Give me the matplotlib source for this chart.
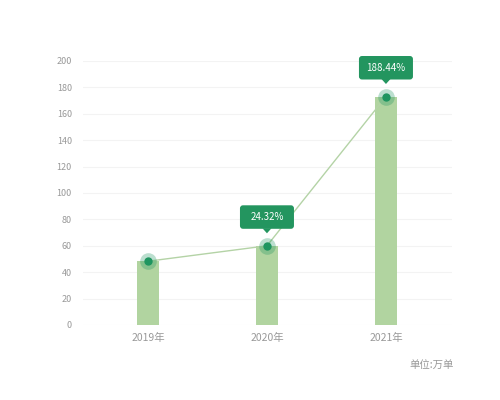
import matplotlib
matplotlib.use("Agg")
import matplotlib.pyplot as plt
import matplotlib.transforms as mtransforms
from matplotlib.patches import FancyBboxPatch, Polygon

plt.rcParams['font.family'] = ['Noto Sans CJK SC', 'DejaVu Sans']

categories = ["2019年", "2020年", "2021年"]
values = [48.3, 60.0, 173.1]
growth_labels = [None, "24.32%", "188.44%"]
yticks = [0, 20, 40, 60, 80, 100, 120, 140, 160, 180, 200]
unit_text = "单位:万单"

bar_color = "#b1d4a0"
line_color = "#b4d3a6"
dot_color = "#1f9560"
box_color = "#23955f"
tick_color = "#999999"

fig = plt.figure(figsize=(5, 4), dpi=100)
ax = fig.add_axes([0.166, 0.1875, 0.738, 0.66])

x = list(range(len(categories)))
ax.bar(x, values, width=0.185, color=bar_color, zorder=2)
ax.plot(x, values, color=line_color, lw=1.0, zorder=3)
ax.plot(x, values, 'o', ms=12, color=dot_color, alpha=0.3, mec='none', zorder=4)
ax.plot(x, values, 'o', ms=6, color=dot_color, mec='none', zorder=5)

for xi, v, lab in zip(x, values, growth_labels):
    if not lab:
        continue
    tr = fig.dpi_scale_trans + mtransforms.ScaledTranslation(xi, v, ax.transData)
    box = FancyBboxPatch((-0.27, 0.17), 0.54, 0.235,
                         boxstyle="round,pad=0,rounding_size=0.03",
                         fc=box_color, ec='none', transform=tr, clip_on=False, zorder=6)
    ax.add_patch(box)
    tri = Polygon([(-0.045, 0.175), (0.045, 0.175), (0, 0.125)], closed=True,
                  fc=box_color, ec='none', transform=tr, clip_on=False, zorder=6)
    ax.add_patch(tri)
    ax.text(0, 0.2875, lab, transform=tr, ha='center', va='center',
            color='white', fontsize=7, fontweight='light', zorder=7, clip_on=False)

ax.set_xlim(-0.546, 2.555)
ax.set_ylim(0, 200)
ax.set_yticks(yticks)
ax.set_xticks(x)
ax.set_xticklabels(categories)
ax.tick_params(axis='both', length=0, colors=tick_color)
ax.tick_params(axis='y', labelsize=6.5, pad=8)
ax.tick_params(axis='x', labelsize=7.5, pad=6)
for lbl in ax.get_xticklabels() + ax.get_yticklabels():
    lbl.set_fontweight('light')
for s in ax.spines.values():
    s.set_visible(False)
ax.yaxis.grid(True, color="#f3f3f3", lw=0.8, zorder=0)
ax.set_axisbelow(True)

fig.text(0.908, 0.0875, unit_text, ha='right', va='center', fontsize=7.5,
         fontweight='light', color=tick_color)

fig.savefig("out.png", dpi=100, facecolor='white')
